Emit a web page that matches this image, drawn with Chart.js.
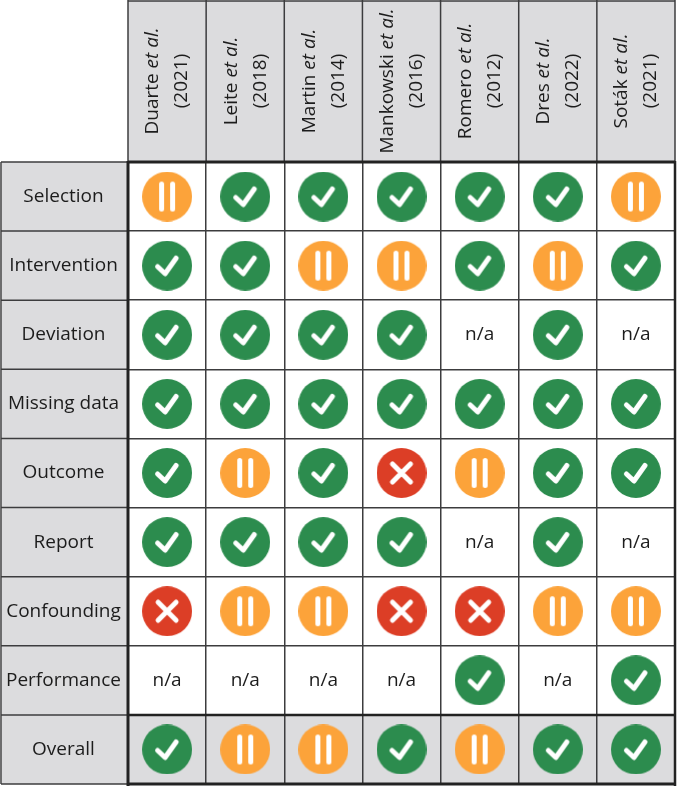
<!DOCTYPE html>
<html>
<head>
<meta charset="utf-8">
<style>
  html, body { margin: 0; background: #fff; }
  canvas { display: block; }
</style>
<script src="https://cdn.jsdelivr.net/npm/chart.js@4"></script>
</head>
<body>
<canvas id="robChart" width="677" height="786"></canvas>
<script>
const authors = ['Duarte', 'Leite', 'Martin', 'Mankowski', 'Romero', 'Dres', 'Soták'];
const years = ['(2021)', '(2018)', '(2014)', '(2016)', '(2012)', '(2022)', '(2021)'];
const domains = ['Selection', 'Intervention', 'Deviation', 'Missing data', 'Outcome', 'Report', 'Confounding', 'Performance', 'Overall'];

// Y = low risk, S = some concerns, N = high risk, - = not applicable
const selection = ['S', 'Y', 'Y', 'Y', 'Y', 'Y', 'S'];
const intervention = ['Y', 'Y', 'S', 'S', 'Y', 'S', 'Y'];
const deviation = ['Y', 'Y', 'Y', 'Y', '-', 'Y', '-'];
const missingData = ['Y', 'Y', 'Y', 'Y', 'Y', 'Y', 'Y'];
const outcome = ['Y', 'S', 'Y', 'N', 'S', 'Y', 'Y'];
const report = ['Y', 'Y', 'Y', 'Y', '-', 'Y', '-'];
const confounding = ['N', 'S', 'S', 'N', 'N', 'S', 'S'];
const performance = ['-', '-', '-', '-', 'Y', '-', 'Y'];
const overall = ['Y', 'S', 'S', 'Y', 'S', 'Y', 'Y'];

const rows = [selection, intervention, deviation, missingData, outcome, report, confounding, performance, overall];

const FONT = '"Open Sans", "Noto Sans", sans-serif';
const GREY = '#dcdcde';
const LINE = '#3c3c3e';
const TEXT = '#1c1c1c';

const makeIcon = (fill, drawMark) => {
  const c = document.createElement('canvas');
  c.width = 50;
  c.height = 50;
  const g = c.getContext('2d');
  g.fillStyle = fill;
  g.beginPath();
  g.arc(25, 25, 25, 0, Math.PI * 2);
  g.fill();
  g.strokeStyle = '#fff';
  g.lineWidth = 5;
  g.lineCap = 'round';
  g.lineJoin = 'round';
  g.beginPath();
  drawMark(g);
  g.stroke();
  return c;
};

const checkIcon = makeIcon('#2c8c4e', (g) => {
  g.moveTo(15.5, 26);
  g.lineTo(23, 33);
  g.lineTo(34, 17.5);
});
const pauseIcon = makeIcon('#fca33a', (g) => {
  g.moveTo(19.5, 12.5);
  g.lineTo(19.5, 37.5);
  g.moveTo(30.5, 12.5);
  g.lineTo(30.5, 37.5);
});
const crossIcon = makeIcon('#dc3e26', (g) => {
  g.moveTo(16, 16);
  g.lineTo(34, 34);
  g.moveTo(34, 16);
  g.lineTo(16, 34);
});

const pointsFor = (rating) => {
  const points = [];
  rows.forEach((row, r) => {
    row.forEach((value, c) => {
      if (value === rating) points.push({ x: authors[c], y: domains[r] });
    });
  });
  return points;
};

const strokeLine = (ctx, x1, y1, x2, y2, width) => {
  ctx.lineWidth = width;
  ctx.beginPath();
  ctx.moveTo(x1, y1);
  ctx.lineTo(x2, y2);
  ctx.stroke();
};

// grey header cells, sit under the grid
const cellBackgrounds = {
  id: 'cellBackgrounds',
  beforeDraw(chart) {
    const { ctx, chartArea: a } = chart;
    const rowH = a.height / domains.length;
    ctx.save();
    ctx.fillStyle = GREY;
    ctx.fillRect(a.left, 1, a.width, a.top - 1);
    ctx.fillRect(2, a.top, a.left - 2, a.height);
    ctx.fillRect(a.left, a.bottom - rowH, a.width, rowH);
    ctx.restore();
  },
};

// header text has an italic part, so ticks can't do it
const headerText = {
  id: 'headerText',
  afterDraw(chart) {
    const { ctx, chartArea: a, scales } = chart;
    const colW = a.width / authors.length;
    const rowH = a.height / domains.length;
    ctx.save();
    ctx.strokeStyle = LINE;
    ctx.lineCap = 'butt';

    // lines of the header cells outside the chart area
    for (let i = 0; i <= authors.length; i++) {
      const px = a.left + i * colW;
      strokeLine(ctx, px, 0, px, a.top, 1.5);
    }
    strokeLine(ctx, a.left, 1, a.right, 1, 1.5);
    for (let i = 0; i <= domains.length; i++) {
      const py = a.top + i * rowH;
      strokeLine(ctx, 1, py, a.left, py, 1.5);
    }
    strokeLine(ctx, 1, a.top, 1, a.bottom, 1.5);

    // heavy outlines
    ctx.strokeStyle = '#222';
    strokeLine(ctx, a.left, a.top, a.right, a.top, 3);
    strokeLine(ctx, a.left, a.top - 1, a.left, a.bottom + 2, 3);
    strokeLine(ctx, a.right, a.top - 1, a.right, a.bottom + 2, 2.5);
    strokeLine(ctx, a.left, a.bottom - rowH, a.right, a.bottom - rowH, 2.5);
    strokeLine(ctx, a.left, a.bottom, a.right, a.bottom, 3);

    ctx.fillStyle = TEXT;
    ctx.textBaseline = 'middle';

    // rotated study labels
    authors.forEach((name, i) => {
      const cx = scales.x.getPixelForValue(i);
      ctx.save();
      ctx.translate(cx - 14, 81);
      ctx.rotate(-Math.PI / 2);
      ctx.textAlign = 'left';
      ctx.font = `19px ${FONT}`;
      const first = `${name} `;
      const firstW = ctx.measureText(first).width;
      ctx.font = `italic 19px ${FONT}`;
      const secondW = ctx.measureText('et al.').width;
      const start = -(firstW + secondW) / 2;
      ctx.fillText('et al.', start + firstW, 0);
      ctx.font = `19px ${FONT}`;
      ctx.fillText(first, start, 0);
      ctx.restore();

      ctx.save();
      ctx.translate(cx + 15, 81);
      ctx.rotate(-Math.PI / 2);
      ctx.textAlign = 'center';
      ctx.font = `19px ${FONT}`;
      ctx.fillText(years[i], 0, 0);
      ctx.restore();
    });

    // not applicable cells
    ctx.textAlign = 'center';
    ctx.font = `19px ${FONT}`;
    rows.forEach((row, r) => {
      row.forEach((value, c) => {
        if (value === '-') {
          ctx.fillText('n/a', scales.x.getPixelForValue(c), scales.y.getPixelForValue(r));
        }
      });
    });
    ctx.restore();
  },
};

// the scales ask for room for their end labels, not wanted in a table
const clearPadding = (scale) => {
  scale.paddingLeft = 0;
  scale.paddingRight = 0;
  scale.paddingTop = 0;
  scale.paddingBottom = 0;
};

new Chart(document.getElementById('robChart'), {
  type: 'scatter',
  data: {
    datasets: [
      { label: 'Low risk', data: pointsFor('Y'), pointStyle: checkIcon },
      { label: 'Some concerns', data: pointsFor('S'), pointStyle: pauseIcon },
      { label: 'High risk', data: pointsFor('N'), pointStyle: crossIcon },
    ],
  },
  options: {
    responsive: false,
    animation: false,
    events: [],
    layout: { autoPadding: false, padding: { right: 2, bottom: 2 } },
    plugins: {
      legend: { display: false },
      tooltip: { enabled: false },
    },
    scales: {
      x: {
        type: 'category',
        labels: authors,
        position: 'top',
        offset: true,
        afterFit: (scale) => {
          scale.height = 162;
          clearPadding(scale);
        },
        ticks: { display: false },
        grid: { offset: true, color: LINE, lineWidth: 1.5, drawTicks: false },
        border: { display: false },
      },
      y: {
        type: 'category',
        labels: domains,
        offset: true,
        afterFit: (scale) => {
          scale.width = 128;
          clearPadding(scale);
        },
        ticks: {
          crossAlign: 'center',
          padding: 7,
          color: TEXT,
          font: { family: FONT, size: 19 },
          autoSkip: false,
        },
        grid: { offset: true, color: LINE, lineWidth: 1.5, drawTicks: false },
        border: { display: false },
      },
    },
  },
  plugins: [cellBackgrounds, headerText],
});
</script>
</body>
</html>
